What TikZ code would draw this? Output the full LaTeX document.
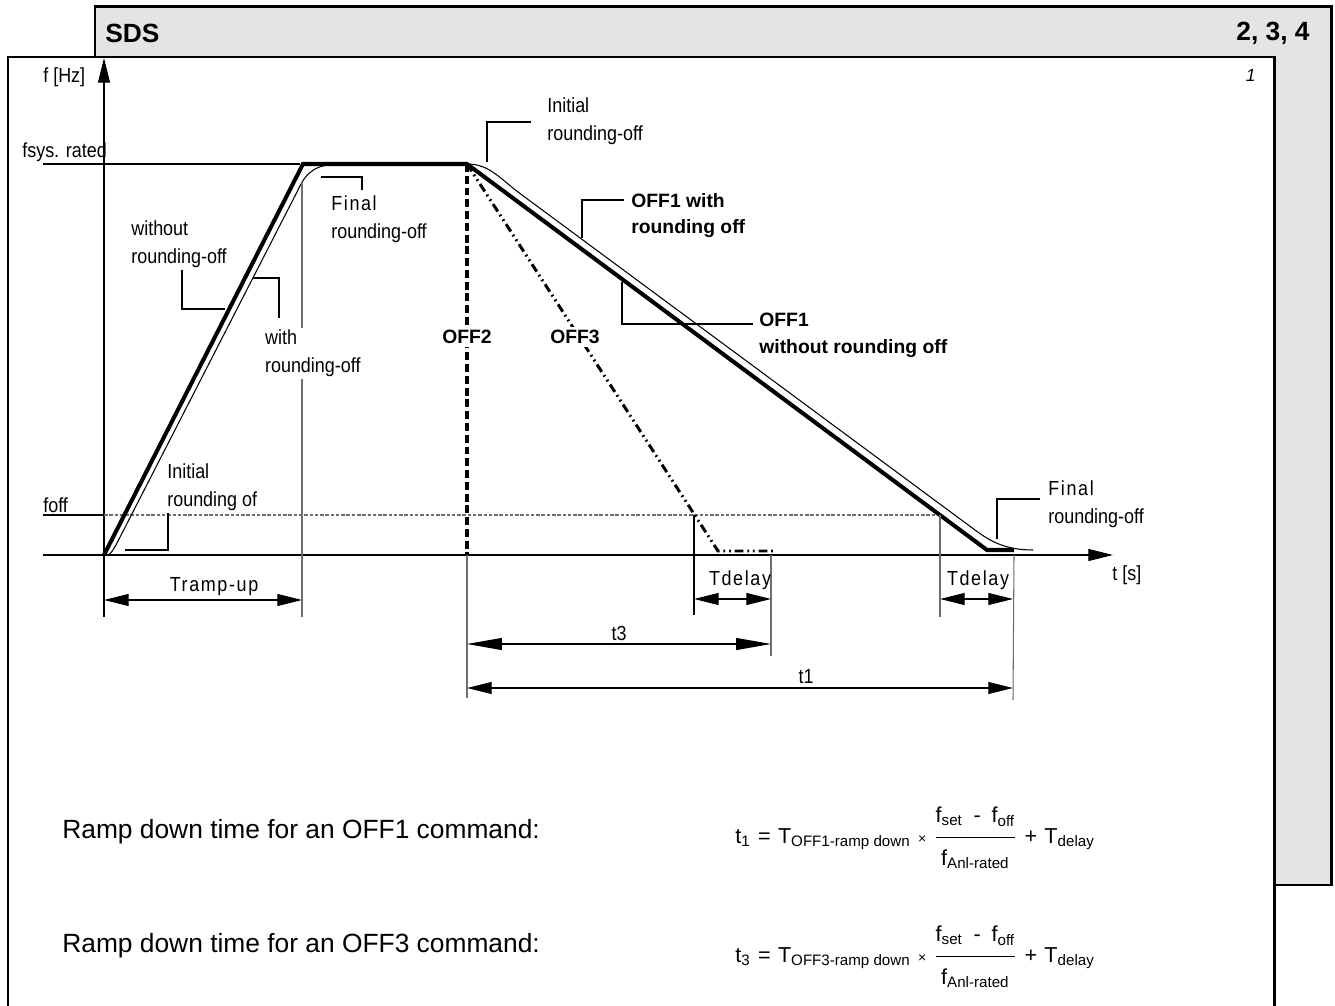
\documentclass[tikz,border=0pt]{standalone}
\usepackage{amsmath}
\usepackage{fontspec}
\setmainfont{Liberation Sans}
\newfontfamily\labelfont{Liberation Sans}[FakeStretch=0.88]
\newfontfamily\spacedfont{Liberation Sans}[FakeStretch=0.88,LetterSpace=8]
\usetikzlibrary{arrows.meta,positioning}
\definecolor{TitleGray}{HTML}{E4E4E4}
\definecolor{ExtGray}{HTML}{6E6E6E}
\newcommand{\rampfrac}{$\dfrac{\text{f\textsubscript{set}\enspace-\enspace f\textsubscript{off}}\rule[-7pt]{0pt}{7pt}}%
  {\rule{0pt}{14pt}\text{f\textsubscript{Anl-rated}}}$}
\newcommand{\gap}{\hspace{4.2pt}}

\begin{document}
\begin{tikzpicture}[x=0.02cm, y=-0.02cm, >={Triangle[length=14pt,width=6.8pt]},
  frame/.style={line width=1.7pt},
  ramp/.style={line width=2.3pt},
  thinline/.style={line width=0.6pt},
  extline/.style={line width=0.6pt, ExtGray},
  dimline/.style={line width=0.6pt, <->},
  lbl/.style={font=\labelfont\fontsize{11.6}{15.9}\selectfont, inner sep=0pt, align=left},
  boldlbl/.style={font=\bfseries\fontsize{11}{15.1}\selectfont, inner sep=0pt, align=left},
  dimlbl/.style={font=\spacedfont\fontsize{11.6}{14}\selectfont, inner sep=0pt},
  headlbl/.style={font=\bfseries\fontsize{15}{18}\selectfont, inner sep=0pt},
  eqtext/.style={font=\fontsize{12.3}{14}\selectfont, inner sep=0pt, anchor=base west}]
  \useasboundingbox (0,0) rectangle (1335,1006);

  % sheet frames
  \draw[frame, fill=TitleGray] (95,7) rectangle (1331,885);
  \draw[frame, fill=white] (8,1030) -- (8,57) -- (1274,57) -- (1274,1030);
  \node[headlbl, anchor=west] (sds) at (105,33) {SDS};
  \node[headlbl, anchor=east] (figs) at (1310,33) {2, 3, 4};
  \node[font=\itshape\fontsize{10}{12}\selectfont, anchor=east, inner sep=0pt] (pno) at (1256,75) {1};

  % axes and levels
  \coordinate (O) at (104,555);
  \coordinate (ytop) at (104,58);
  \coordinate (ybot) at (104,617);
  \coordinate (xleft) at (43,555);
  \coordinate (xright) at (1113,555);
  \coordinate (up) at (303,164);
  \coordinate (dn) at (467,164);
  \coordinate (end1) at (987,550);
  \coordinate (hold1) at (1014,550);
  \coordinate (end3) at (718,551);
  \coordinate (hold3) at (773,551);
  \coordinate (off3) at (694,515);
  \coordinate (off1) at (940,515);

  \draw[thinline, ->] (ybot) -- (ytop);
  \draw[thinline, ->] (xleft) -- (xright);
  \node[lbl, anchor=west] (fhz) at (43,77) {f [Hz]};
  \node[lbl, anchor=west] (ts) at (1112,575) {t [s]};
  \node[lbl, anchor=west] (fsys) at (22,152) {fsys. rated};
  \node[lbl, anchor=west] (foff) at (43,505) {foff};
  \draw[thinline] (43,164) -- (300,164);
  \draw[thinline] (43,515) -- (O |- off3);
  \draw[thinline, ExtGray, dash pattern=on 2pt off 1pt] (O |- off3) -- (off1);

  % ramp without / with rounding-off
  \draw[ramp] (O) -- (up) -- (dn) -- (end1) -- (hold1);
  \draw[thinline] (O) .. controls (110,555) .. (116,545) -- (298,190)
    .. controls (306,172) and (316,164) .. (340,164) -- (dn)
    .. controls (490,164) and (500,179) .. (522,195) -- (975,530)
    .. controls (990,541) and (1005,550) .. (1033,550);
  \draw[line width=1.9pt, dash pattern=on 4.5pt off 2.2pt] (dn) -- (dn |- O);
  \draw[line width=1.7pt, dash pattern=on 5pt off 2.2pt on 1pt off 2.2pt on 1pt off 2.2pt]
    (dn) -- (end3) -- (hold3);
  \node[boldlbl, fill=white, inner sep=2pt] (off2lbl) at (467,337) {OFF2};
  \node[boldlbl, fill=white, inner sep=2pt] (off3lbl) at (575,337) {OFF3};

  % labels with leaders
  \node[lbl, anchor=north west] (iniTop) at (547,97) {Initial\\rounding-off};
  \draw[thinline] (487,162) |- (531,122);
  \node[boldlbl, anchor=north west] (withOff1) at (631,193) {OFF1 with\\rounding off};
  \draw[thinline] (582,238) |- (624,200);
  \node[boldlbl, anchor=north west] (woOff1) at (759,313) {OFF1\\without rounding off};
  \draw[thinline] (622,282) |- (753,324);
  \node[lbl, anchor=north west] (finTop) at (331,195) {{\spacedfont Final}\\rounding-off};
  \draw[thinline] (321,177) -| (362,190);
  \node[lbl, anchor=north west] (woRound) at (131,220) {without\\rounding-off};
  \draw[thinline] (182,270) |- (225,309);
  \node[lbl, anchor=north west] (iniBot) at (167,463) {Initial\\rounding of};
  \draw[thinline] (125,550) -| (168,513);
  \node[lbl, anchor=north west] (finBot) at (1048,480) {{\spacedfont Final}\\rounding-off};
  \draw[thinline] (997,539) |- (1040,499);

  % dimensions
  \draw[extline] (302,182) -- (302,617);
  \node[lbl, anchor=north west, fill=white, inner sep=1pt] (wRound) at (263,328) {with\\rounding-off};
  \draw[thinline] (253,278) -| (279,318);
  \draw[extline] (dn |- O) -- (467,698);
  \draw[thinline] (off3) -- (694,615);
  \draw[extline] (771,555) -- (771,656);
  \draw[extline] (off1) -- (940,617);
  \draw[extline] (hold1 |- O) -- (1013,700);

  \draw[dimline] (104,600) -- (302,600);
  \node[dimlbl] (trampup) at (214,587) {Tramp-up};
  \draw[dimline] (694,599) -- (771,599);
  \node[dimlbl] (tdel3) at (740,580) {Tdelay};
  \draw[dimline] (940,599) -- (1013,599);
  \node[dimlbl] (tdel1) at (978,580) {Tdelay};
  \draw[dimline, {Triangle[length=19.8pt,width=6.8pt]}-{Triangle[length=19.8pt,width=6.8pt]}]
    (467,644) -- (771,644);
  \node[lbl] (t3) at (619,633) {t3};
  \draw[dimline] (467,688) -- (1013,688);
  \node[lbl] (t1) at (806,677) {t1};

  % ramp down times
  \node[eqtext, font=\fontsize{15}{18}\selectfont] (rd1) at (62,838) {Ramp down time for an OFF1 command:};
  \node[eqtext] (eq1) at (735,843)
    {t\textsubscript{1}\gap=\gap T\textsubscript{OFF1-ramp down}\gap{\footnotesize ×}\gap
     \rampfrac\gap+\gap T\textsubscript{delay}};
  \node[eqtext, font=\fontsize{15}{18}\selectfont] (rd3) at (62,952) {Ramp down time for an OFF3 command:};
  \node[eqtext] (eq3) at (735,962)
    {t\textsubscript{3}\gap=\gap T\textsubscript{OFF3-ramp down}\gap{\footnotesize ×}\gap
     \rampfrac\gap+\gap T\textsubscript{delay}};
\end{tikzpicture}
\end{document}
